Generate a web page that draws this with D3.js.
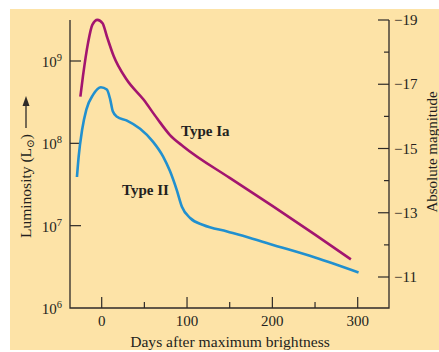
<!DOCTYPE html>
<html>
<head>
<meta charset="utf-8">
<script src="https://cdn.jsdelivr.net/npm/d3@7"></script>
<style>
  body { margin: 0; background: #fff; }
  text { font-family: "Liberation Serif", "DejaVu Serif", serif; fill: #231f20; }
</style>
</head>
<body>
<div id="vis"></div>
<script>
// light curves (days after max, luminosity in solar units)
const iaDays = [-25, -22, -16, -11, -5, 1, 6, 14, 29, 49, 65, 80, 96, 150, 200, 250, 292];
const iaLum = [3.7e8, 6.5e8, 1.66e9, 2.75e9, 3.16e9, 2.88e9, 2.0e9, 1.15e9, 6.0e8, 3.4e8, 2.0e8, 1.26e8, 9.1e7, 3.8e7, 1.74e7, 7.8e6, 3.9e6];

const iiDays = [-29, -27, -23, -18, -10, -1, 6, 10, 13, 18, 29, 45, 60, 72, 80, 88, 94, 104, 119, 147, 174, 197, 250, 301];
const iiLum = [3.9e7, 6.9e7, 1.45e8, 2.57e8, 3.9e8, 4.8e8, 4.5e8, 3.4e8, 2.45e8, 2.1e8, 1.9e8, 1.5e8, 1.05e8, 6.9e7, 4.6e7, 2.7e7, 1.7e7, 1.23e7, 1.02e7, 8.5e6, 7.1e6, 6.0e6, 4.1e6, 2.7e6];

const xTicks = [0, 100, 200, 300];
const xMinor = [50, 150, 250];
const lumTicks = [1e6, 1e7, 1e8, 1e9];
const magMajor = [-19, -17, -15, -13, -11];
const magMinor = [-18, -16, -14, -12];

const W = 439, H = 352;
const plotL = 70, plotR = 389, plotT = 20, plotB = 308;

const svg = d3.select("#vis").append("svg")
  .attr("width", W)
  .attr("height", H);

// beige panel
svg.append("rect")
  .attr("x", 10).attr("y", 9)
  .attr("width", W - 10).attr("height", 341)
  .attr("fill", "#fde3a7");

const x = d3.scaleLinear().domain([0, 300]).range([101.7, 357.7]);
const y = d3.scaleLog().domain([1e6, 1e9]).range([plotB, 61]);
const mag = d3.scaleLinear().domain([-19, -11]).range([20, 277]);

const axisColor = "#2e2a28";

// axes lines
svg.append("path")
  .attr("d", `M${plotL},${plotT}V${plotB}H${plotR}V${plotT}`)
  .attr("fill", "none")
  .attr("stroke", axisColor)
  .attr("stroke-width", 1.3);

// x ticks
svg.selectAll(".xt").data(xTicks).join("line")
  .attr("x1", d => x(d)).attr("x2", d => x(d))
  .attr("y1", plotB).attr("y2", plotB - 11)
  .attr("stroke", axisColor).attr("stroke-width", 1.2);
svg.selectAll(".xm").data(xMinor).join("line")
  .attr("x1", d => x(d)).attr("x2", d => x(d))
  .attr("y1", plotB).attr("y2", plotB - 6)
  .attr("stroke", axisColor).attr("stroke-width", 1.2);
svg.selectAll(".xl").data(xTicks).join("text")
  .attr("x", d => x(d)).attr("y", 326)
  .attr("text-anchor", "middle")
  .attr("font-size", 15)
  .text(d => d);

svg.append("text")
  .attr("x", 230).attr("y", 347)
  .attr("text-anchor", "middle")
  .attr("font-size", 15.6)
  .text("Days after maximum brightness");

// left luminosity axis
svg.selectAll(".yt").data(lumTicks.slice(1)).join("line")
  .attr("x1", plotL).attr("x2", plotL + 11)
  .attr("y1", d => y(d)).attr("y2", d => y(d))
  .attr("stroke", axisColor).attr("stroke-width", 1.2);
const yl = svg.selectAll(".yl").data(lumTicks).join("text")
  .attr("x", 62).attr("y", d => y(d) + 6)
  .attr("text-anchor", "end")
  .attr("font-size", 15);
yl.append("tspan").text("10");
yl.append("tspan")
  .attr("dy", -6).attr("font-size", 10.5)
  .text(d => Math.round(Math.log10(d)));

// luminosity title with arrow
const lt = svg.append("text")
  .attr("transform", "translate(31,134) rotate(-90)")
  .attr("text-anchor", "end")
  .attr("font-size", 15.5);
lt.append("tspan").text("Luminosity (L");
lt.append("tspan").attr("dy", 3).attr("font-size", 10.5).text("\u2299");
lt.append("tspan").attr("dy", -3).text(")");
svg.append("line")
  .attr("x1", 26).attr("x2", 26)
  .attr("y1", 128).attr("y2", 104)
  .attr("stroke", axisColor).attr("stroke-width", 1.3);
svg.append("path")
  .attr("d", "M26,96L22.5,106L29.5,106Z")
  .attr("fill", axisColor);

// right magnitude axis
svg.selectAll(".mt").data(magMajor).join("line")
  .attr("x1", plotR - 11).attr("x2", plotR)
  .attr("y1", d => mag(d)).attr("y2", d => mag(d))
  .attr("stroke", axisColor).attr("stroke-width", 1.2);
svg.selectAll(".mm").data(magMinor).join("line")
  .attr("x1", plotR - 5).attr("x2", plotR)
  .attr("y1", d => mag(d)).attr("y2", d => mag(d))
  .attr("stroke", axisColor).attr("stroke-width", 1.2);
svg.selectAll(".ml").data(magMajor).join("text")
  .attr("x", 394).attr("y", d => mag(d) + 5)
  .attr("font-size", 15)
  .text(d => "\u2212" + Math.abs(d));

svg.append("text")
  .attr("transform", "translate(437,152) rotate(-90)")
  .attr("text-anchor", "middle")
  .attr("font-size", 15)
  .text("Absolute magnitude");

// light curves
const line = d3.line()
  .x(d => x(d[0]))
  .y(d => y(d[1]))
  .curve(d3.curveMonotoneX);

svg.append("path")
  .datum(d3.zip(iaDays, iaLum))
  .attr("d", line)
  .attr("fill", "none")
  .attr("stroke", "#a3156f")
  .attr("stroke-width", 2.6);

svg.append("path")
  .datum(d3.zip(iiDays, iiLum))
  .attr("d", line)
  .attr("fill", "none")
  .attr("stroke", "#2190cf")
  .attr("stroke-width", 2.6);

// series labels
svg.append("text")
  .attr("x", 181).attr("y", 136)
  .attr("font-size", 15).attr("font-weight", "bold")
  .text("Type Ia");
svg.append("text")
  .attr("x", 122).attr("y", 195)
  .attr("font-size", 15).attr("font-weight", "bold")
  .text("Type II");
</script>
</body>
</html>
